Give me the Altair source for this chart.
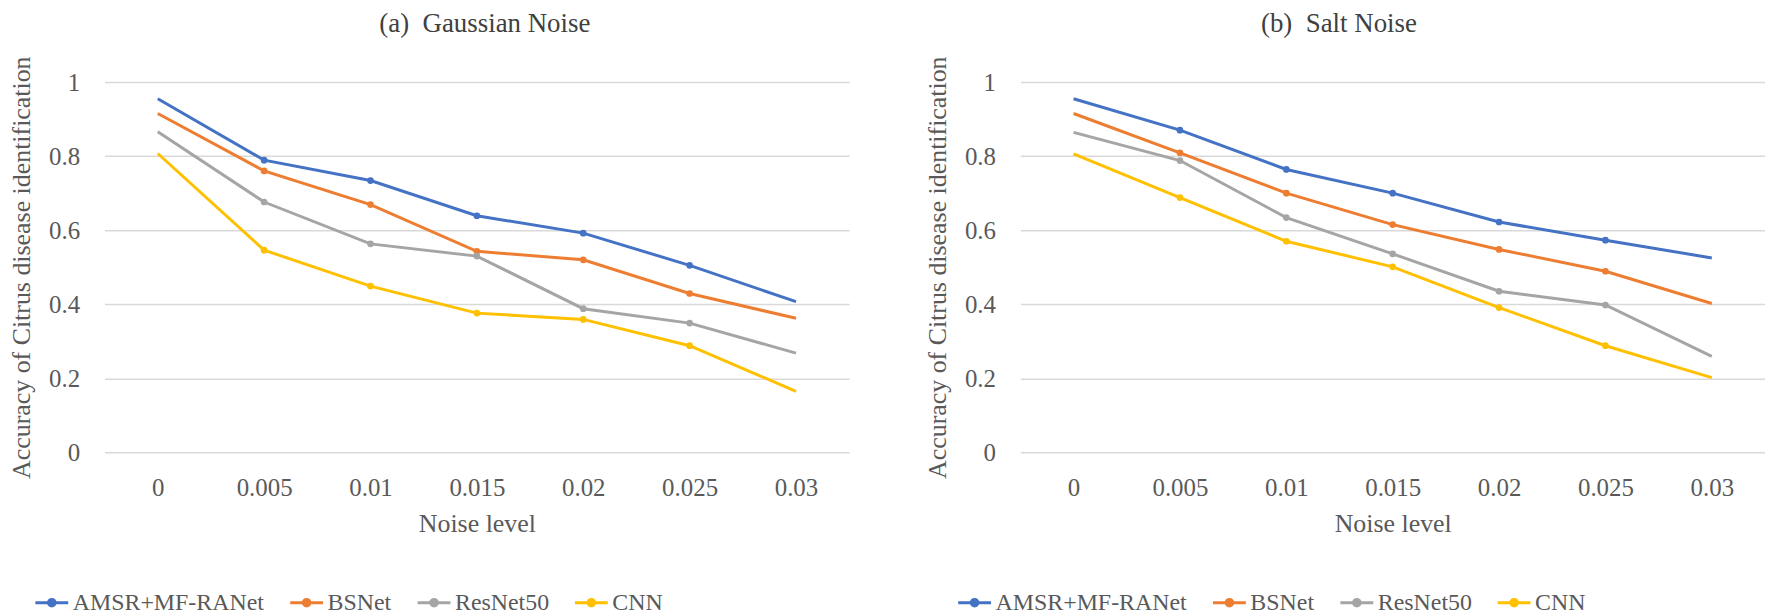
import altair as alt
import pandas as pd

noise_levels = ["0", "0.005", "0.01", "0.015", "0.02", "0.025", "0.03"]
series_names = ["AMSR+MF-RANet", "BSNet", "ResNet50", "CNN"]
series_colors = ["#4472C4", "#ED7D31", "#A5A5A5", "#FFC000"]

gauss_amsr = [0.955, 0.789, 0.734, 0.639, 0.592, 0.505, 0.407]
gauss_bsnet = [0.915, 0.760, 0.669, 0.543, 0.520, 0.429, 0.362]
gauss_resnet = [0.866, 0.676, 0.563, 0.530, 0.388, 0.349, 0.268]
gauss_cnn = [0.807, 0.546, 0.449, 0.376, 0.359, 0.288, 0.165]

salt_amsr = [0.955, 0.870, 0.764, 0.700, 0.622, 0.573, 0.525]
salt_bsnet = [0.915, 0.809, 0.700, 0.615, 0.548, 0.489, 0.402]
salt_resnet = [0.864, 0.788, 0.634, 0.536, 0.435, 0.398, 0.259]
salt_cnn = [0.806, 0.688, 0.570, 0.501, 0.391, 0.288, 0.202]

FONT = "Liberation Serif"
TXT = "#595959"


def make_df(series):
    rows = []
    for name, vals in zip(series_names, series):
        for i, (lvl, v) in enumerate(zip(noise_levels, vals)):
            rows.append({"level": lvl, "idx": i, "model": name, "acc": v})
    return pd.DataFrame(rows)


LEGEND_PATH = "M-1,0H1M-0.2,0A0.2,0.2 0 1,0 0.2,0A0.2,0.2 0 1,0 -0.2,0Z"


def panel(df, title, legend_x, title_dx):
    x = alt.X(
        "level:N",
        sort=noise_levels,
        scale=alt.Scale(type="point", padding=0.5),
        axis=alt.Axis(
            title="Noise level",
            titleFont=FONT,
            labelFont=FONT,
            labelAngle=0,
            labelPadding=23,
            titlePadding=11,
            grid=False,
            domain=False,
            ticks=False,
        ),
    )
    y = alt.Y(
        "acc:Q",
        scale=alt.Scale(domain=[0, 1]),
        axis=alt.Axis(
            title="Accuracy of Citrus disease identification",
            titleFont=FONT,
            labelFont=FONT,
            values=[0, 0.2, 0.4, 0.6, 0.8, 1],
            format="~g",
            labelPadding=25,
            titlePadding=14,
            grid=True,
            domain=False,
            ticks=False,
        ),
    )
    color = alt.Color(
        "model:N",
        sort=series_names,
        scale=alt.Scale(domain=series_names, range=series_colors),
        legend=alt.Legend(
            orient="none",
            legendX=legend_x,
            legendY=505,
            direction="horizontal",
            columns=4,
            title=None,
            symbolType=LEGEND_PATH,
            symbolSize=1089,
            symbolStrokeWidth=3,
            labelFont=FONT,
            labelFontSize=24,
            labelColor=TXT,
            labelLimit=0,
            columnPadding=19,
            labelOffset=3,
        ),
    )
    base = alt.Chart(df)
    lines = base.mark_line(strokeWidth=3).encode(x=x, y=y, color=color)
    pts = (
        base.transform_filter("datum.idx > 0 && datum.idx < 6")
        .mark_point(filled=True, size=45, opacity=1)
        .encode(x=x, y=y, color=color)
    )
    return alt.layer(lines, pts).properties(
        width=748,
        height=372,
        title=alt.TitleParams(
            title,
            font=FONT,
            fontSize=27,
            fontWeight="normal",
            color="#404040",
            anchor="middle",
            offset=18,
            dx=title_dx,
        ),
    )


left = panel(make_df([gauss_amsr, gauss_bsnet, gauss_resnet, gauss_cnn]),
             "(a)\u00a0\u00a0Gaussian Noise", -71, 8)
right = panel(make_df([salt_amsr, salt_bsnet, salt_resnet, salt_cnn]),
              "(b)\u00a0\u00a0Salt Noise", -64, -54)

chart = (
    alt.hconcat(left, right, spacing=75)
    .resolve_scale(color="independent")
    .configure(font=FONT)
    .configure_view(stroke=None)
    .configure_axis(
        labelFont=FONT,
        labelFontSize=25,
        labelColor=TXT,
        titleFont=FONT,
        titleFontSize=26,
        titleFontWeight="normal",
        titleColor=TXT,
        gridColor="#D9D9D9",
        gridWidth=1.5,
    )
    .properties(
        background="white",
        padding={"left": 0, "top": 0, "right": 0, "bottom": 0},
    )
)

chart.save("out.html", embed_options={"renderer": "svg", "actions": False})
